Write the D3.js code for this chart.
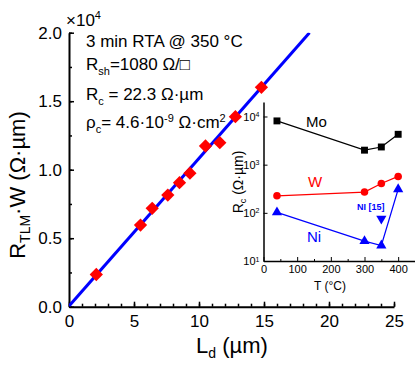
<!DOCTYPE html>
<html>
<head>
<meta charset="utf-8">
<script src="https://cdn.jsdelivr.net/npm/d3@7/dist/d3.min.js"></script>
<style>
  body { margin: 0; background: #fff; }
  svg { font-family: "Liberation Sans", Arial, sans-serif; }
  .axis path, .axis line { stroke: #000; }
</style>
</head>
<body>
<div id="chart"></div>
<script>
// main TLM data (Ld in um, R*W in 1e4 ohm*um)
var ld = [2.1, 5.5, 6.4, 7.6, 8.5, 9.3, 10.5, 11.6, 12.8, 14.8];
var rw = [0.235, 0.596, 0.718, 0.815, 0.905, 0.975, 1.173, 1.197, 1.387, 1.601];
// linear fit end points
var fitX = [0, 18.5];
var fitY = [0.0045, 2.0];
var mainXTicks = [0, 5, 10, 15, 20, 25];
var mainYTicks = [0, 0.5, 1.0, 1.5, 2.0];

// inset: Rc vs anneal temperature
var temps = [40, 300, 350, 400];
var moRc = [8100, 2000, 2330, 4270];
var wRc = [226, 270, 408, 570];
var niRc = [102, 25.8, 21, 309];
var niRefT = [350];
var niRefRc = [76];
var insetXTicks = [0, 100, 200, 300, 400];
var insetYTicks = [10, 100, 1000, 10000];

var width = 415, height = 369;

var svg = d3.select("#chart").append("svg")
    .attr("width", width)
    .attr("height", height);

// ---------- main chart ----------
var x = d3.scaleLinear().domain([0, 25]).range([69, 394]);
var y = d3.scaleLinear().domain([0, 2]).range([306.7, 32.7]);

svg.append("defs").append("clipPath").attr("id", "clip")
  .append("rect")
    .attr("x", x(0)).attr("y", y(2))
    .attr("width", x(25) - x(0)).attr("height", y(0) - y(2));

// minor ticks
svg.append("g")
    .attr("class", "axis")
    .attr("transform", "translate(0," + y(0) + ")")
    .call(d3.axisBottom(x).tickValues(d3.range(0, 26, 1)).tickSize(-3).tickFormat(""))
    .call(function(g) { g.select(".domain").remove(); })
    .selectAll("line").attr("stroke-width", 1.5);

svg.append("g")
    .attr("class", "axis")
    .attr("transform", "translate(" + x(0) + ",0)")
    .call(d3.axisLeft(y).tickValues(d3.range(0, 2.01, 0.25)).tickSize(-3).tickFormat(""))
    .call(function(g) { g.select(".domain").remove(); })
    .selectAll("line").attr("stroke-width", 1.5);

var xAxis = svg.append("g")
    .attr("class", "axis")
    .attr("transform", "translate(0," + y(0) + ")")
    .call(d3.axisBottom(x).tickValues(mainXTicks).tickSizeInner(-5).tickSizeOuter(0)
      .tickPadding(8).tickFormat(d3.format("d")));
xAxis.select(".domain").attr("stroke-width", 2);
xAxis.selectAll("line").attr("stroke-width", 1.5);
xAxis.selectAll("text").attr("font-size", 17).attr("fill", "#000")
    .attr("font-family", "Liberation Sans, Arial, sans-serif");

var yAxis = svg.append("g")
    .attr("class", "axis")
    .attr("transform", "translate(" + x(0) + ",0)")
    .call(d3.axisLeft(y).tickValues(mainYTicks).tickSizeInner(-5).tickSizeOuter(0)
      .tickPadding(7).tickFormat(d3.format(".1f")));
yAxis.select(".domain").attr("stroke-width", 2);
yAxis.selectAll("line").attr("stroke-width", 1.5);
yAxis.selectAll("text").attr("font-size", 17).attr("fill", "#000")
    .attr("font-family", "Liberation Sans, Arial, sans-serif");

// x10^4 multiplier
var mult = svg.append("text").attr("x", 66).attr("y", 26).attr("font-size", 17);
mult.append("tspan").text("\u00d710");
mult.append("tspan").attr("dy", -7).attr("font-size", 11).text("4");

// fit line
svg.append("line")
    .attr("clip-path", "url(#clip)")
    .attr("x1", x(fitX[0])).attr("y1", y(fitY[0]))
    .attr("x2", x(fitX[1])).attr("y2", y(fitY[1]))
    .attr("stroke", "#0000ff")
    .attr("stroke-width", 3);

// diamonds
svg.append("g").selectAll("path")
    .data(ld)
  .enter().append("path")
    .attr("d", d3.symbol().type(d3.symbolSquare).size(88))
    .attr("transform", function(d, i) {
      return "translate(" + x(d) + "," + y(rw[i]) + ") rotate(45)";
    })
    .attr("fill", "#ff0000");

// axis titles
var yTitle = svg.append("text")
    .attr("transform", "translate(25,185) rotate(-90)")
    .attr("text-anchor", "middle")
    .attr("font-size", 22);
yTitle.append("tspan").text("R");
yTitle.append("tspan").attr("dy", 5).attr("font-size", 14).text("TLM");
yTitle.append("tspan").attr("dy", -5).text("\u00b7W (\u03a9\u00b7\u00b5m)");

var xTitle = svg.append("text")
    .attr("x", 232).attr("y", 353)
    .attr("text-anchor", "middle")
    .attr("font-size", 22);
xTitle.append("tspan").text("L");
xTitle.append("tspan").attr("dy", 5).attr("font-size", 14).text("d");
xTitle.append("tspan").attr("dy", -5).text(" (\u00b5m)");

// annotation block
var ann = svg.append("g").attr("font-size", 17);
ann.append("text").attr("x", 86).attr("y", 47).text("3 min RTA @ 350 \u00b0C");
var t2 = ann.append("text").attr("x", 86).attr("y", 70);
t2.append("tspan").text("R");
t2.append("tspan").attr("dy", 5).attr("font-size", 11).text("sh");
t2.append("tspan").attr("dy", -5).text("=1080 \u03a9/\u25a1");
var t3 = ann.append("text").attr("x", 86).attr("y", 100);
t3.append("tspan").text("R");
t3.append("tspan").attr("dy", 5).attr("font-size", 11).text("c");
t3.append("tspan").attr("dy", -5).text(" = 22.3 \u03a9\u00b7\u00b5m");
var t4 = ann.append("text").attr("x", 86).attr("y", 128);
t4.append("tspan").text("\u03c1");
t4.append("tspan").attr("dy", 5).attr("font-size", 11).text("c");
t4.append("tspan").attr("dy", -5).text("= 4.6\u00b710");
t4.append("tspan").attr("dy", -6).attr("font-size", 11).text("-9");
t4.append("tspan").attr("dy", 6).text(" \u03a9\u00b7cm");
t4.append("tspan").attr("dy", -6).attr("font-size", 11).text("2");

// ---------- inset ----------
var ix = d3.scaleLinear().domain([0, 450]).range([263.5, 415]);
var iy = d3.scaleLog().domain([10, 20000]).range([261, 102]);

svg.append("rect")
    .attr("x", ix(0)).attr("y", iy(20000))
    .attr("width", ix(450) - ix(0)).attr("height", iy(10) - iy(20000))
    .attr("fill", "#fff");

svg.append("g")
    .attr("class", "axis")
    .attr("transform", "translate(0," + iy(10) + ")")
    .call(d3.axisBottom(ix).tickValues(d3.range(50, 451, 100)).tickSize(-2).tickFormat(""))
    .call(function(g) { g.select(".domain").remove(); });

var ixAxis = svg.append("g")
    .attr("class", "axis")
    .attr("transform", "translate(0," + iy(10) + ")")
    .call(d3.axisBottom(ix).tickValues(insetXTicks).tickSizeInner(-4).tickSizeOuter(0)
      .tickPadding(4).tickFormat(d3.format("d")));
ixAxis.select(".domain").attr("stroke-width", 1.5);
ixAxis.selectAll("text").attr("font-size", 11).attr("fill", "#000")
    .attr("font-family", "Liberation Sans, Arial, sans-serif");

var iyAxis = svg.append("g")
    .attr("class", "axis")
    .attr("transform", "translate(" + ix(0) + ",0)")
    .call(d3.axisLeft(iy).tickValues(insetYTicks).tickSizeInner(-4).tickSizeOuter(0)
      .tickPadding(4).tickFormat(""));
iyAxis.select(".domain").attr("stroke-width", 1.5);
iyAxis.selectAll(".tick text")
    .attr("font-size", 11).attr("fill", "#000")
    .attr("font-family", "Liberation Sans, Arial, sans-serif")
    .each(function(d) {
      var t = d3.select(this);
      t.append("tspan").text("10");
      t.append("tspan").attr("dy", "-0.5em").attr("font-size", 7)
        .text(Math.round(Math.log10(d)));
    });

svg.append("text")
    .attr("x", 330).attr("y", 290)
    .attr("text-anchor", "middle")
    .attr("font-size", 12)
    .text("T (\u00b0C)");

var iyTitle = svg.append("text")
    .attr("transform", "translate(243,182) rotate(-90)")
    .attr("text-anchor", "middle")
    .attr("font-size", 14);
iyTitle.append("tspan").text("R");
iyTitle.append("tspan").attr("dy", 3).attr("font-size", 9).text("c");
iyTitle.append("tspan").attr("dy", -3).text(" (\u03a9\u00b7\u00b5m)");

var iline = d3.line()
    .x(function(d, i) { return ix(temps[i]); })
    .y(function(d) { return iy(d); });

function series(vals, color, symbol, size) {
  svg.append("path")
      .attr("d", iline(vals))
      .attr("fill", "none")
      .attr("stroke", color)
      .attr("stroke-width", 1.2);
  svg.append("g").selectAll("path")
      .data(vals)
    .enter().append("path")
      .attr("d", d3.symbol().type(symbol).size(size))
      .attr("transform", function(d, i) {
        return "translate(" + ix(temps[i]) + "," + iy(d) + ")";
      })
      .attr("fill", color);
}

series(moRc, "#000", d3.symbolSquare, 48);
series(wRc, "#ff0000", d3.symbolCircle, 45);
series(niRc, "#0000ff", d3.symbolTriangle, 45);

svg.append("g").selectAll("path")
    .data(niRefRc)
  .enter().append("path")
    .attr("d", d3.symbol().type(d3.symbolTriangle).size(45))
    .attr("transform", function(d, i) {
      return "translate(" + ix(niRefT[i]) + "," + iy(d) + ") rotate(180)";
    })
    .attr("fill", "#0000ff");

svg.append("text").attr("x", 306).attr("y", 127).attr("font-size", 15).text("Mo");
svg.append("text").attr("x", 308).attr("y", 187).attr("font-size", 15)
    .attr("fill", "#ff0000").text("W");
svg.append("text").attr("x", 307).attr("y", 242).attr("font-size", 15)
    .attr("fill", "#0000ff").text("Ni");
svg.append("text").attr("x", 357).attr("y", 210).attr("font-size", 9)
    .attr("font-weight", "bold").attr("fill", "#0000ff").text("NI [15]");
</script>
</body>
</html>
